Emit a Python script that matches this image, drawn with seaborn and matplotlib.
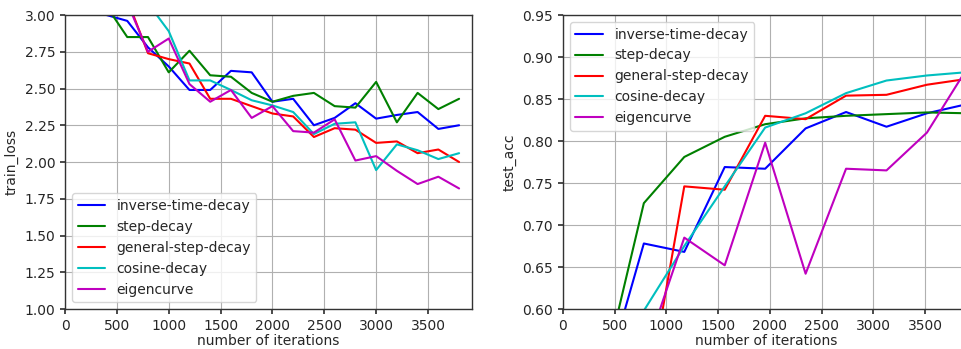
import numpy as np
import pandas as pd
import matplotlib
matplotlib.use("Agg")
import seaborn as sns
import matplotlib.pyplot as plt

methods = ["inverse-time-decay", "step-decay", "general-step-decay", "cosine-decay", "eigencurve"]
# plain matplotlib base colours (b, g, r, c, m), not seaborn's remapped ones
colors = ["#0000ff", "#008000", "#ff0000", "#00bfbf", "#bf00bf"]

# train loss, sampled every 200 iterations
loss_iters = list(range(0, 3801, 200))
loss_inverse = [3.30, 3.15, 3.00, 2.96, 2.78, 2.65, 2.49, 2.49, 2.62, 2.61, 2.41, 2.43, 2.25, 2.30, 2.40, 2.295, 2.32, 2.34, 2.225, 2.25]
loss_step = [3.30, 3.15, 3.06, 2.85, 2.85, 2.61, 2.757, 2.59, 2.58, 2.47, 2.41, 2.45, 2.47, 2.38, 2.37, 2.545, 2.27, 2.47, 2.36, 2.43]
loss_general = [3.45, 3.30, 3.20, 3.106, 2.74, 2.70, 2.67, 2.43, 2.43, 2.38, 2.33, 2.31, 2.17, 2.23, 2.22, 2.13, 2.14, 2.06, 2.085, 2.00]
loss_cosine = [3.45, 3.35, 3.25, 3.15, 3.08, 2.89, 2.555, 2.555, 2.49, 2.42, 2.385, 2.34, 2.19, 2.26, 2.27, 1.945, 2.12, 2.08, 2.02, 2.06]
loss_eigen = [3.40, 3.30, 3.20, 3.083, 2.75, 2.84, 2.53, 2.41, 2.49, 2.30, 2.38, 2.21, 2.20, 2.29, 2.01, 2.04, 1.94, 1.85, 1.90, 1.82]

# test accuracy, evaluated every ~391 iterations
acc_iters = [0, 391, 782, 1173, 1564, 1955, 2346, 2737, 3128, 3519, 3910]
acc_inverse = [0.40, 0.51, 0.678, 0.668, 0.769, 0.767, 0.815, 0.8345, 0.817, 0.833, 0.844]
acc_step = [0.40, 0.523, 0.726, 0.781, 0.805, 0.820, 0.827, 0.830, 0.832, 0.834, 0.833]
acc_general = [0.40, 0.44, 0.472, 0.746, 0.742, 0.830, 0.826, 0.854, 0.855, 0.867, 0.874]
acc_cosine = [0.40, 0.50, 0.598, 0.675, 0.746, 0.816, 0.833, 0.857, 0.872, 0.878, 0.882]
acc_eigen = [0.40, 0.47, 0.543, 0.685, 0.652, 0.798, 0.642, 0.767, 0.765, 0.810, 0.887]


def long_df(iters, series):
    rows = []
    for name, vals in zip(methods, series):
        for it, v in zip(iters, vals):
            rows.append((name, it, v))
    return pd.DataFrame(rows, columns=["method", "iteration", "value"])


df_loss = long_df(loss_iters, [loss_inverse, loss_step, loss_general, loss_cosine, loss_eigen])
df_acc = long_df(acc_iters, [acc_inverse, acc_step, acc_general, acc_cosine, acc_eigen])

sns.set_theme(style="ticks", rc={
    "axes.grid": True,
    "grid.color": "#b0b0b0",
    "grid.linewidth": 0.8,
    "axes.edgecolor": "#333333",
    "axes.linewidth": 1.0,
})
plt.rcParams["font.family"] = ["DejaVu Sans"]

fig = plt.figure(figsize=(9.62, 3.49), dpi=100)
ax1 = fig.add_axes([0.0676, 0.1146, 0.4231, 0.8424])
ax2 = fig.add_axes([0.5852, 0.1146, 0.4220, 0.8424])

for ax, df, ylab, ylim, yticks, loc in [
    (ax1, df_loss, "train_loss", (1.0, 3.0), np.arange(1.0, 3.01, 0.25), "lower left"),
    (ax2, df_acc, "test_acc", (0.6, 0.95), np.arange(0.60, 0.951, 0.05), "upper left"),
]:
    sns.lineplot(data=df, x="iteration", y="value", hue="method", hue_order=methods,
                 palette=colors, linewidth=1.5, ax=ax, legend=True)
    ax.set_xlim(0, 3925)
    ax.set_ylim(*ylim)
    ax.set_xticks(range(0, 3501, 500))
    ax.set_yticks(yticks)
    ax.set_yticklabels([f"{t:.2f}" for t in yticks])
    ax.set_xlabel("number of iterations", fontsize=10, labelpad=1)
    ax.set_ylabel(ylab, fontsize=10)
    ax.tick_params(labelsize=10, length=3.5, color="#333333")
    leg = ax.legend(loc=loc, fontsize=10, frameon=True, handlelength=2.0)
    leg.set_title(None)

fig.savefig("out.png", dpi=100)
plt.close(fig)
